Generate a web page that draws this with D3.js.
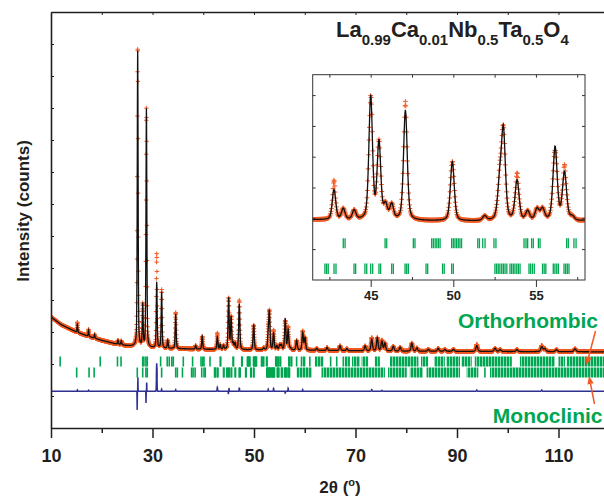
<!DOCTYPE html>
<html><head><meta charset="utf-8">
<script src="https://cdn.jsdelivr.net/npm/d3@7"></script>
<style>
body{margin:0;background:#fff;}
text{font-family:Arial,"Liberation Sans",Helvetica,sans-serif;font-weight:bold;}
</style>
</head><body>
<svg id="c" width="604" height="498"></svg>
<script>
// ---------------- DATA ----------------
const xTicksMajor = [10, 30, 50, 70, 90, 110];
const xTicksMinor = [20, 40, 60, 80, 100, 120];
const topTicks = [20, 30, 40, 50, 60, 70, 80, 90, 100, 110];
const yTicks = [0,1000,2000,3000,4000,5000,6000,7000,8000,9000,10000,11000,12000,13000];
const insetXTicksMajor = [45, 50, 55];
const insetXTicksMinor = [42.5, 47.5, 52.5, 57.5];
const insetYTicks = [2075, 2475, 2875, 3275, 3675, 4075];

// background knots (2theta, counts)
const bgTheta  = [10,   12,   15,   17.5, 20,   22.5, 25,   30,   40,   50,   60,   80,   100,  120];
const bgCounts = [3470, 3230, 3000, 2860, 2740, 2640, 2570, 2500, 2460, 2440, 2430, 2400, 2390, 2380];

// calculated reflections: position (2theta) and peak height above background (counts)
const peakPos = [15.2, 17.4, 18.6, 23.2, 23.85, 27.08, 28.07, 28.8, 30.83, 31.8, 33.0, 34.57, 38.5, 39.8,
  42.78, 43.34, 44.0, 45.0, 45.5, 45.9, 46.27, 47.1, 49.94, 51.9, 52.8, 53.03, 53.86, 54.5, 55.07, 55.4, 56.16, 56.73, 57.2,
  58.4, 59.6, 60.05, 62.35, 64.4, 66.95, 68.3, 71.9, 73.2, 74.3, 75.2, 75.8, 77.45, 78.8, 81.1, 82.1, 84.35, 86.3, 87.6,
  89.3, 93.9, 97.5, 98.5, 101.8, 106.7, 107.3, 109.6, 113.25];
const peakHeight = [280, 190, 120, 120, 120, 9250, 1300, 7450, 2060, 1760, 250, 1080, 110, 400,
  390, 140, 120, 1600, 1000, 180, 190, 1430, 770, 60, 430, 1150, 520, 120, 150, 150, 960, 620, 50,
  300, 540, 380, 60, 90, 150, 60, 150, 360, 410, 300, 240, 150, 120, 250, 100, 60, 90, 60,
  60, 180, 100, 60, 60, 150, 90, 60, 90];

// residuals obs - calc: position, amplitude (counts), width (2theta)
const residPos   = [15.2, 17.4, 26.98, 27.12, 28.72, 28.86, 30.83, 31.8, 34.57, 42.78, 44.95, 45.08, 47.1, 52.8, 53.86, 56.16, 56.73, 59.6, 73.2, 75.2, 93.9, 106.7];
const residAmp   = [40, 30, -600, 450, -380, 300, 880, 60, 50, 120, -90, 100, 110, 60, 90, -60, 90, 50, 50, 30, 40, 40];
const residWidth = [0.1, 0.1, 0.05, 0.05, 0.05, 0.05, 0.12, 0.1, 0.1, 0.12, 0.06, 0.06, 0.1, 0.1, 0.1, 0.1, 0.1, 0.1, 0.15, 0.15, 0.15, 0.15];

// reflection markers: single positions or [start, end] bands
const orthoRefl = [11.8, 19.7, 23.1, 23.8, 28.07, 28.3, 28.7, 28.97, 31.6, 32.9, 33.3, 33.8, 34.1, 36.07, 37.9, 39.56, 39.9, 40.15, 41.33,
  43.34, 43.45, 45.87, 45.97, 47.58, 47.68, 48.69, 48.79, 48.9, 49.0, 49.1, 49.2, 49.9, 50.0, 50.1, 50.2, 50.3, 50.4, 50.5,
  51.48, 51.58, 51.78, 51.92, 52.46, 52.58, 54.28, 54.4, 54.5, 54.74, 54.84, 55.15, 55.25, 56.86, 56.96, 57.3, 57.43,
  58.4, [59.2, 60.2], 61.0, [62.0, 63.7], 65.1, 66.3, 67.6,
  [67.9, 68.9], [69.3, 70.9], [71.2, 72.5], [73.8, 74.8], [76.8, 82.4], [82.9, 84.3], [85.5, 87.6], [87.9, 90.6], [90.9, 92.9],
  [93.5, 100.8], [102.4, 109.3], [110, 111.3], [111.6, 119.5]];
const monoRefl = [15.06, 17.5, 18.5, 27.0, 28.07, 28.7, 28.97, 30.83, 31.8, 34.57, 34.9, 35.9, 37.7, 38.0, 38.4, 39.7, 40.15, 40.4,
  42.23, 42.33, 42.43, 42.78, 42.9, 43.99, 44.09, 44.65, 44.76, 45.0, 45.12, 45.5, 45.6, 46.27, 46.37, 47.08, 47.18, 47.28,
  48.35, 48.45, 49.35, 49.45, 49.9, 50.0, 52.52, 52.62, 52.72, 52.82, 52.93, 53.03, 53.13, 53.24, 53.43, 53.53, 53.63, 53.73,
  53.84, 53.94, 54.04, 54.58, 54.68, 54.79, 54.9, 55.4, 55.5, 55.6, 56.05, 56.15, 56.26, 56.36, 56.7, 56.8, 56.9, 57.0,
  [58.4, 61.4], [63.3, 75.8], [76.4, 80.1], [80.7, 83.3], [84, 90.6], [91.9, 94.2], 95.5, [96.5, 119.5]];

const diffOffset = 1150;

// ---------------- COLORS / LAYOUT ----------------
const cObs = "#f15a24", cCalc = "#111", cDiff = "#2e3192", cGreen = "#00a651", cAxis = "#231f20";

const svg = d3.select("#c");
const defs = svg.append("defs");
const pat = defs.append("pattern").attr("id", "refband").attr("patternUnits", "userSpaceOnUse")
  .attr("width", 3).attr("height", 20);
pat.append("rect").attr("width", 2.4).attr("height", 20).attr("fill", cGreen);
pat.append("rect").attr("x", 2.4).attr("width", 0.6).attr("height", 20).attr("fill", "#7fd3a8");

const x = d3.scaleLinear().domain([10, 120]).range([51, 609.25]);
const y = d3.scaleLinear().domain([0, 13000]).range([428, 12]);
const bg = d3.scaleLinear().domain(bgTheta).range(bgCounts).clamp(true);

const fwhm = t => 0.17 + 0.0035 * (t - 20);
const eta = 0.4, k = 4 * Math.LN2;
function calcAt(t) {
  let s = bg(t);
  for (let i = 0; i < peakPos.length; i++) {
    const d = t - peakPos[i];
    if (Math.abs(d) > 4) continue;
    const w = fwhm(peakPos[i]);
    const r = d * d / (w * w);
    s += peakHeight[i] * (eta / (1 + 4 * r) + (1 - eta) * Math.exp(-k * r));
  }
  return s;
}
function residAt(t) {
  let s = 0;
  for (let i = 0; i < residPos.length; i++) {
    const d = t - residPos[i];
    s += residAmp[i] * Math.exp(-k * d * d / (residWidth[i] * residWidth[i]));
  }
  return s;
}
const thetas = d3.range(10, 119.6, 0.025);
const pts = thetas.map(t => { const c = calcAt(t), r = residAt(t); return {t, calc: c, obs: c + r, diff: diffOffset + r}; });

// clip
svg.append("clipPath").attr("id", "mainclip").append("rect").attr("x", 51).attr("y", 0).attr("width", 560).attr("height", 428);
const main = svg.append("g").attr("clip-path", "url(#mainclip)");

function drawRefl(g, xs, list, y0, y1, sw) {
  list.forEach(d => {
    if (Array.isArray(d)) {
      g.append("rect").attr("x", xs(d[0])).attr("y", y0).attr("width", Math.max(1, xs(d[1]) - xs(d[0]))).attr("height", y1 - y0).attr("fill", "url(#refband)");
    } else {
      g.append("line").attr("x1", xs(d)).attr("x2", xs(d)).attr("y1", y0).attr("y2", y1).attr("stroke", cGreen).attr("stroke-width", sw);
    }
  });
}
drawRefl(main, x, orthoRefl, 356.5, 366.5, 1.6);
drawRefl(main, x, monoRefl, 367.5, 377.5, 1.6);

// difference
main.append("path").datum(pts).attr("fill", "none").attr("stroke", cDiff).attr("stroke-width", 1.5)
  .attr("d", d3.line().x(d => x(d.t)).y(d => y(d.diff)));

// observed markers
function plusPath(data, xs, ys, a) {
  let s = "";
  data.forEach(d => { const px = xs(d.t), py = ys(d.obs);
    s += `M${(px - a).toFixed(2)},${py.toFixed(2)}h${2 * a}M${px.toFixed(2)},${(py - a).toFixed(2)}v${2 * a}`; });
  return s;
}
main.append("path").attr("d", plusPath(pts, x, y, 2.2)).attr("stroke", cObs).attr("stroke-width", 1).attr("fill", "none");
// calc
main.append("path").datum(pts).attr("fill", "none").attr("stroke", cCalc).attr("stroke-width", 1.3)
  .attr("d", d3.line().x(d => x(d.t)).y(d => y(d.calc)));

// axes
const ax = svg.append("g").attr("transform", "translate(0,428)")
  .call(d3.axisBottom(x).tickValues(xTicksMajor).tickSize(10).tickSizeOuter(0).tickFormat(d3.format("d")));
ax.select(".domain").attr("stroke", cAxis).attr("stroke-width", 1.6);
ax.selectAll(".tick line").attr("stroke", cAxis).attr("stroke-width", 1.5);
ax.selectAll(".tick text").attr("y", 33.5).attr("dy", 0).attr("font-size", 18).attr("fill", "#231f20")
  .style("font-family", "Arial, 'Liberation Sans', sans-serif").style("font-weight", "bold");
const axm = svg.append("g").attr("transform", "translate(0,428)")
  .call(d3.axisBottom(x).tickValues(xTicksMinor).tickSize(5).tickSizeOuter(0).tickFormat(""));
axm.select(".domain").remove();
axm.selectAll(".tick line").attr("stroke", cAxis).attr("stroke-width", 1.5);

const axt = svg.append("g").attr("transform", "translate(0,12)")
  .call(d3.axisTop(x).tickValues(topTicks).tickSize(-3).tickSizeOuter(0).tickFormat(""));
axt.select(".domain").attr("stroke", cAxis).attr("stroke-width", 1.3);
axt.selectAll(".tick line").attr("stroke", cAxis).attr("stroke-width", 1);

const ayl = svg.append("g").attr("transform", "translate(51,0)")
  .call(d3.axisLeft(y).tickValues(yTicks).tickSize(-3).tickSizeOuter(0).tickFormat(""));
ayl.select(".domain").attr("stroke", cAxis).attr("stroke-width", 1.6);
ayl.selectAll(".tick line").attr("stroke", cAxis).attr("stroke-width", 1);

// axis titles
svg.append("text").attr("transform", "translate(29,211) rotate(-90)").attr("text-anchor", "middle")
  .attr("font-size", 17).attr("fill", "#231f20").text("Intensity (counts)");
const xt = svg.append("text").attr("x", 340).attr("y", 493).attr("text-anchor", "middle").attr("font-size", 17).attr("fill", "#231f20");
xt.append("tspan").text("2θ (");
xt.append("tspan").attr("font-size", 11).attr("dy", -7).text("o");
xt.append("tspan").attr("dy", 7).text(")");

// ---------------- INSET ----------------
const ix = d3.scaleLinear().domain([41.49, 57.97]).range([312.7, 585]);
const iy = d3.scaleLinear().domain([1674, 4340]).range([280, 74.7]);
const ipts = pts.filter(d => d.t >= 41.49 && d.t <= 57.97);
svg.append("clipPath").attr("id", "iclip").append("rect").attr("x", 312.7).attr("y", 74.7).attr("width", 272.3).attr("height", 205.3);
svg.append("rect").attr("x", 312.7).attr("y", 74.7).attr("width", 272.3).attr("height", 205.3).attr("fill", "#fff");
const ig = svg.append("g").attr("clip-path", "url(#iclip)");
drawRefl(ig, ix, orthoRefl, 238.3, 248.3, 1.3);
drawRefl(ig, ix, monoRefl, 263.5, 274, 1.3);
ig.append("path").attr("d", plusPath(ipts, ix, iy, 2.4)).attr("stroke", cObs).attr("stroke-width", 1).attr("fill", "none");
ig.append("path").datum(ipts).attr("fill", "none").attr("stroke", cCalc).attr("stroke-width", 1.3)
  .attr("d", d3.line().x(d => ix(d.t)).y(d => iy(d.calc)));
svg.append("rect").attr("x", 312.7).attr("y", 74.7).attr("width", 272.3).attr("height", 205.3)
  .attr("fill", "none").attr("stroke", "#333").attr("stroke-width", 1);

const ib = svg.append("g").attr("transform", "translate(0,280)")
  .call(d3.axisBottom(ix).tickValues(insetXTicksMajor).tickSize(7).tickSizeOuter(0).tickFormat(d3.format("d")));
ib.select(".domain").remove();
ib.selectAll(".tick line").attr("stroke", "#333");
ib.selectAll(".tick text").attr("y", 20).attr("dy", 0).attr("font-size", 13).attr("fill", "#231f20")
  .style("font-family", "Arial, 'Liberation Sans', sans-serif").style("font-weight", "bold");
const ibm = svg.append("g").attr("transform", "translate(0,280)")
  .call(d3.axisBottom(ix).tickValues(insetXTicksMinor).tickSize(-3).tickSizeOuter(0).tickFormat(""));
ibm.select(".domain").remove(); ibm.selectAll(".tick line").attr("stroke", "#333");
const itp = svg.append("g").attr("transform", "translate(0,74.7)")
  .call(d3.axisTop(ix).tickValues(insetXTicksMajor.concat(insetXTicksMinor)).tickSize(-3).tickSizeOuter(0).tickFormat(""));
itp.select(".domain").remove(); itp.selectAll(".tick line").attr("stroke", "#333");
const ir = svg.append("g").attr("transform", "translate(585,0)")
  .call(d3.axisRight(iy).tickValues(insetYTicks).tickSize(-3).tickSizeOuter(0).tickFormat(""));
ir.select(".domain").remove(); ir.selectAll(".tick line").attr("stroke", "#333");
const il = svg.append("g").attr("transform", "translate(312.7,0)")
  .call(d3.axisLeft(iy).tickValues(insetYTicks).tickSize(-3).tickSizeOuter(0).tickFormat(""));
il.select(".domain").remove(); il.selectAll(".tick line").attr("stroke", "#333");

// ---------------- TITLE ----------------
const title = svg.append("text").attr("x", 336).attr("y", 45).attr("font-size", 22).attr("fill", "#231f20");
const parts = [["La", "0.99"], ["Ca", "0.01"], ["Nb", "0.5"], ["Ta", "0.5"], ["O", "4"]];
parts.forEach(p => {
  title.append("tspan").attr("dy", title.selectAll("tspan").size() ? -8 : 0).text(p[0]);
  title.append("tspan").attr("font-size", 15).attr("dy", 8).text(p[1]);
});

// ---------------- PHASE LABELS & ARROWS ----------------
svg.append("text").attr("x", 598).attr("y", 328.3).attr("text-anchor", "end").attr("font-size", 21).attr("fill", cGreen).text("Orthorhombic");
svg.append("text").attr("x", 602.5).attr("y", 423.3).attr("text-anchor", "end").attr("font-size", 21).attr("fill", cGreen).text("Monoclinic");

function arrow(x0, y0, x1, y1) {
  const dx = x1 - x0, dy = y1 - y0, L = Math.hypot(dx, dy), ux = dx / L, uy = dy / L;
  const hl = 8, hw = 3.2;
  const bx = x1 - ux * hl, by = y1 - uy * hl;
  svg.append("line").attr("x1", x0).attr("y1", y0).attr("x2", bx).attr("y2", by).attr("stroke", cObs).attr("stroke-width", 1.5);
  svg.append("path").attr("d", `M${x1},${y1}L${bx - uy * hw},${by + ux * hw}L${bx + uy * hw},${by - ux * hw}Z`).attr("fill", cObs);
}
arrow(595.5, 331, 586.5, 365);
arrow(594.5, 404, 589, 376);
</script>
</body></html>
